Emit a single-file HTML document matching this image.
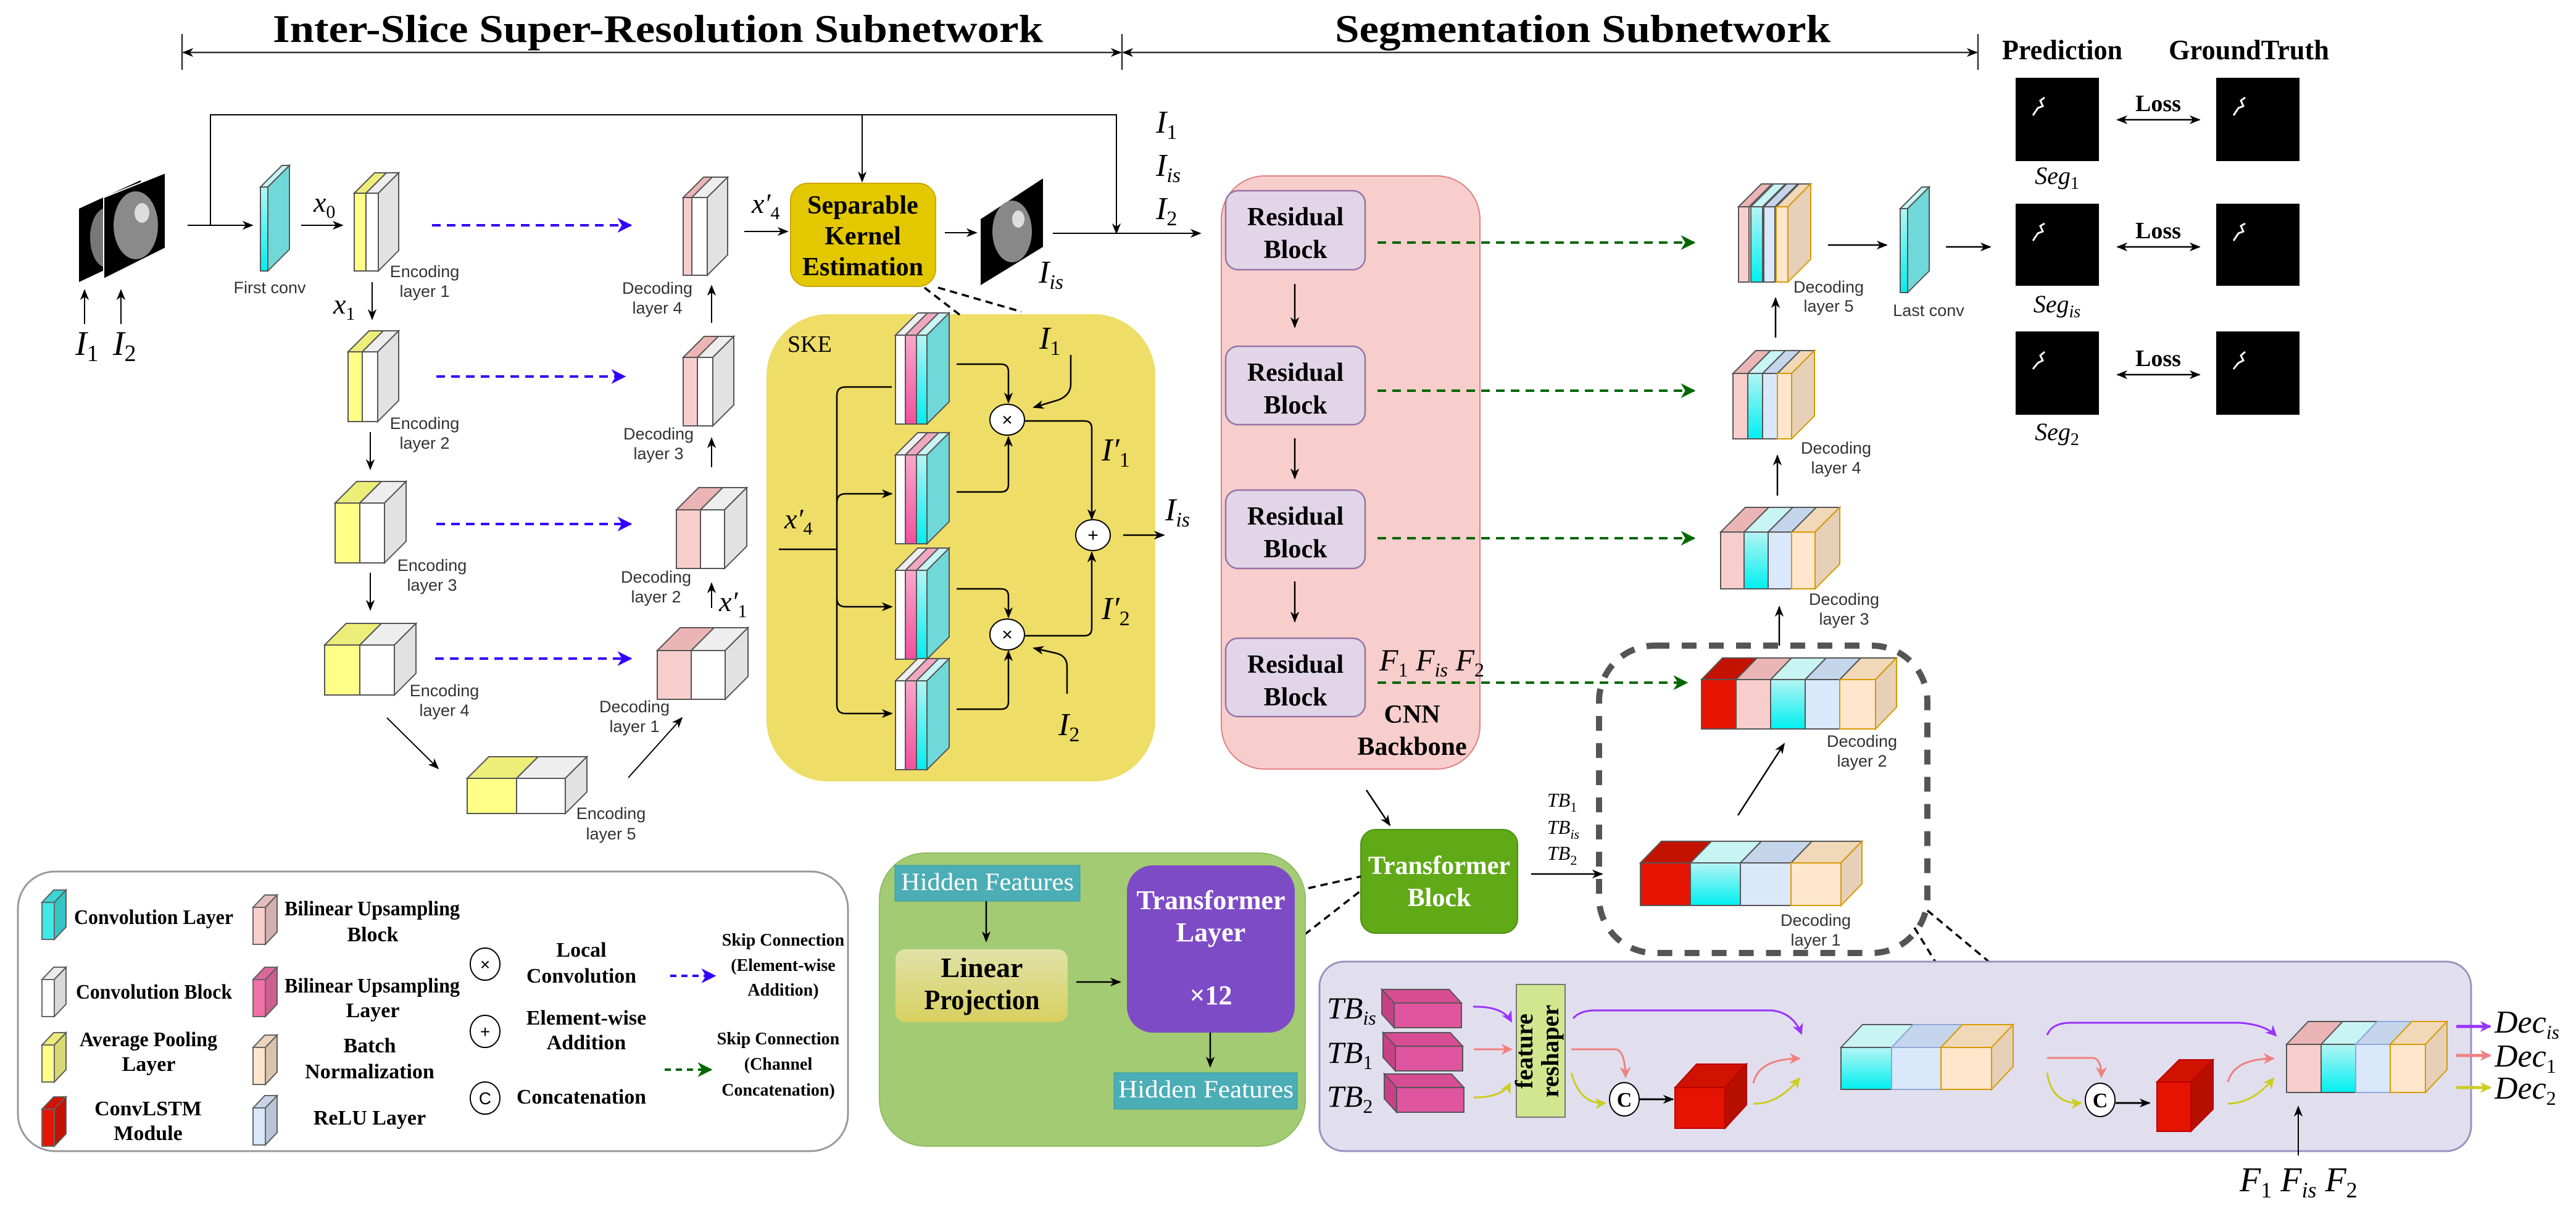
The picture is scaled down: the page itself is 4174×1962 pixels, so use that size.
<!DOCTYPE html>
<html><head><meta charset="utf-8"><style>
html,body{margin:0;padding:0;background:#fff}
svg{display:block}
.s{font-family:"Liberation Serif",serif}
.a{font-family:"Liberation Sans",sans-serif}
.b{font-weight:bold}
.i{font-style:italic}
.n{font-style:normal}
.g path,.g polygon,.g rect{stroke:#555;stroke-width:2}
</style></head><body>
<svg width="4174" height="1962" viewBox="0 0 4174 1962" xmlns="http://www.w3.org/2000/svg">
<defs>
<linearGradient id="cy" x1="0" y1="0" x2="0" y2="1"><stop offset="0" stop-color="#B4F4F4"/><stop offset="1" stop-color="#00F0F0"/></linearGradient>
<linearGradient id="mg" x1="0" y1="0" x2="0" y2="1"><stop offset="0" stop-color="#F8A8C8"/><stop offset="1" stop-color="#F050A0"/></linearGradient>
<linearGradient id="lp" x1="0" y1="0" x2="0" y2="1"><stop offset="0" stop-color="#E0E2A8"/><stop offset="1" stop-color="#D8D060"/></linearGradient>
<marker id="a" viewBox="0 0 10 10" refX="9" refY="5" markerWidth="18" markerHeight="18" markerUnits="userSpaceOnUse" orient="auto-start-reverse"><path d="M0,1 L10,5 L0,9 L3,5z" fill="#000"/></marker>
<marker id="ab" viewBox="0 0 10 10" refX="9" refY="5" markerWidth="24" markerHeight="24" markerUnits="userSpaceOnUse" orient="auto"><path d="M0,0 L10,5 L0,10 L3,5z" fill="#3300FF"/></marker>
<marker id="ag" viewBox="0 0 10 10" refX="9" refY="5" markerWidth="24" markerHeight="24" markerUnits="userSpaceOnUse" orient="auto"><path d="M0,0 L10,5 L0,10 L3,5z" fill="#006600"/></marker>
<marker id="ap" viewBox="0 0 10 10" refX="9" refY="5" markerWidth="18" markerHeight="18" markerUnits="userSpaceOnUse" orient="auto"><path d="M0,0 L10,5 L0,10 L3,5z" fill="#9933FF"/></marker>
<marker id="as" viewBox="0 0 10 10" refX="9" refY="5" markerWidth="18" markerHeight="18" markerUnits="userSpaceOnUse" orient="auto"><path d="M0,0 L10,5 L0,10 L3,5z" fill="#F08080"/></marker>
<marker id="ay" viewBox="0 0 10 10" refX="9" refY="5" markerWidth="18" markerHeight="18" markerUnits="userSpaceOnUse" orient="auto"><path d="M0,0 L10,5 L0,10 L3,5z" fill="#CCCC22"/></marker>
<g id="skst" class="g">
<polygon points="1451,36 1487,0 1503,0 1467,36" fill="#eee"/><rect x="1451" y="36" width="16" height="144" fill="#fff"/>
<polygon points="1467,36 1503,0 1521,0 1485,36" fill="#F0A8C0"/><rect x="1467" y="36" width="18" height="144" fill="url(#mg)"/>
<polygon points="1485,36 1521,0 1538,0 1502,36" fill="#C8F4F4"/><rect x="1485" y="36" width="17" height="144" fill="url(#cy)"/>
<polygon points="1502,36 1538,0 1538,144 1502,180" fill="#70D8D8"/>
</g>
<g id="mgb" class="g">
<polygon points="2239,0 2348,0 2368,22 2259,22" fill="#D84C94"/>
<polygon points="2239,0 2259,22 2259,62 2239,40" fill="#C84088"/>
<rect x="2259" y="22" width="109" height="40" fill="#E0559F"/>
</g>
<g id="ic">
<polygon points="0,20 19,0 39,0 20,20" stroke="#666" stroke-width="2"/>
<polygon points="0,20 19,0 39,0 20,20" fill="#000" opacity=".08"/>
<polygon points="20,20 39,0 39,60 20,80" stroke="#666" stroke-width="2"/>
<polygon points="20,20 39,0 39,60 20,80" fill="#000" opacity=".15"/>
<rect x="0" y="20" width="20" height="60" stroke="#666" stroke-width="2"/>
</g>
</defs>
<rect width="4174" height="1962" fill="#fff"/>

<text class="s b" x="442" y="68" font-size="64" textLength="1248" lengthAdjust="spacingAndGlyphs">Inter-Slice Super-Resolution Subnetwork</text>
<text class="s b" x="2163" y="68" font-size="64" textLength="803" lengthAdjust="spacingAndGlyphs">Segmentation Subnetwork</text>
<text class="s b" x="3244" y="96" font-size="46" textLength="195" lengthAdjust="spacingAndGlyphs">Prediction</text>
<text class="s b" x="3514" y="96" font-size="46" textLength="260" lengthAdjust="spacingAndGlyphs">GroundTruth</text>
<g stroke="#333" stroke-width="2.5" fill="none">
<line x1="295" y1="55" x2="295" y2="113"/><line x1="1818" y1="55" x2="1818" y2="113"/><line x1="3205" y1="55" x2="3205" y2="113"/>
<line x1="297" y1="85" x2="1816" y2="85" marker-start="url(#a)" marker-end="url(#a)"/>
<line x1="1820" y1="85" x2="3203" y2="85" marker-start="url(#a)" marker-end="url(#a)"/>
</g>

<g fill="#000">
<rect x="3266" y="126" width="135" height="135"/><rect x="3591" y="126" width="135" height="135"/>
<rect x="3266" y="330" width="135" height="133"/><rect x="3591" y="330" width="135" height="133"/>
<rect x="3266" y="537" width="135" height="135"/><rect x="3591" y="537" width="135" height="135"/>
</g>
<g stroke="#fff" stroke-width="3" fill="none">
<path d="M3294,187 L3302,175 L3310,172 L3306,163 L3313,158"/><path d="M3619,187 L3627,175 L3635,172 L3631,163 L3638,158"/>
<path d="M3294,390 L3302,378 L3310,375 L3306,366 L3313,362"/><path d="M3619,390 L3627,378 L3635,375 L3631,366 L3638,362"/>
<path d="M3294,598 L3302,588 L3310,584 L3306,576 L3313,570"/><path d="M3619,598 L3627,588 L3635,584 L3631,576 L3638,570"/>
</g>
<g stroke="#000" stroke-width="2.5">
<line x1="3431" y1="194" x2="3564" y2="194" marker-start="url(#a)" marker-end="url(#a)"/>
<line x1="3431" y1="400" x2="3564" y2="400" marker-start="url(#a)" marker-end="url(#a)"/>
<line x1="3431" y1="607" x2="3564" y2="607" marker-start="url(#a)" marker-end="url(#a)"/>
</g>
<g class="s b" font-size="38" text-anchor="middle"><text x="3497" y="180">Loss</text><text x="3497" y="386">Loss</text><text x="3497" y="593">Loss</text></g>
<g class="s i" font-size="40" text-anchor="middle">
<text x="3333" y="298">Seg<tspan class="n" font-size="28" dy="8">1</tspan></text>
<text x="3333" y="506">Seg<tspan font-size="28" dy="8">is</tspan></text>
<text x="3333" y="713">Seg<tspan class="n" font-size="28" dy="8">2</tspan></text>
</g>

<polygon points="128,338 228,292 228,410 128,457" fill="#000"/>
<ellipse cx="172" cy="385" rx="26" ry="48" fill="#777"/>
<polygon points="168,320 268,280 268,402 168,452" fill="#000" stroke="#fff" stroke-width="2"/>
<ellipse cx="220" cy="365" rx="36" ry="55" fill="#8a8a8a"/><ellipse cx="230" cy="345" rx="12" ry="16" fill="#ddd"/>
<g stroke="#000" stroke-width="2" fill="none">
<line x1="137" y1="525" x2="137" y2="470" marker-end="url(#a)"/><line x1="196" y1="525" x2="196" y2="470" marker-end="url(#a)"/>
<polyline points="341,365 341,186 1809,186 1809,378" marker-end="url(#a)"/>
<line x1="1397" y1="186" x2="1397" y2="294" marker-end="url(#a)"/>
<line x1="304" y1="365" x2="409" y2="365" marker-end="url(#a)"/>
<line x1="488" y1="365" x2="555" y2="365" marker-end="url(#a)"/>
<line x1="603" y1="457" x2="603" y2="517" marker-end="url(#a)"/>
<line x1="600" y1="700" x2="600" y2="760" marker-end="url(#a)"/>
<line x1="600" y1="928" x2="600" y2="988" marker-end="url(#a)"/>
<line x1="627" y1="1163" x2="710" y2="1245" marker-end="url(#a)"/>
<line x1="1018" y1="1260" x2="1105" y2="1163" marker-end="url(#a)"/>
<line x1="1153" y1="985" x2="1153" y2="945" marker-end="url(#a)"/>
<line x1="1153" y1="757" x2="1153" y2="710" marker-end="url(#a)"/>
<line x1="1153" y1="523" x2="1153" y2="463" marker-end="url(#a)"/>
<line x1="1206" y1="375" x2="1276" y2="375" marker-end="url(#a)"/>
<line x1="1531" y1="377" x2="1582" y2="377" marker-end="url(#a)"/>
<line x1="1706" y1="378" x2="1945" y2="378" marker-end="url(#a)"/>
</g>
<g class="s i" font-size="56"><text x="122" y="575">I<tspan class="n" font-size="38" dy="10">1</tspan></text><text x="183" y="575">I<tspan class="n" font-size="38" dy="10">2</tspan></text></g>

<g class="g">
<polygon points="422,303 457,268 469,268 434,303" fill="#C8F4F4"/><rect x="422" y="303" width="12" height="136" fill="url(#cy)"/><polygon points="434,303 469,268 469,404 434,439" fill="#70D8D8"/>
<polygon points="574,313 607,280 626,280 593,313" fill="#EDED7A"/><rect x="574" y="313" width="19" height="126" fill="#FFFF88"/>
<polygon points="593,313 626,280 646,280 613,313" fill="#eee"/><rect x="593" y="313" width="20" height="126" fill="#fff"/><polygon points="613,313 646,280 646,406 613,439" fill="#e2e2e2"/>
<polygon points="564,570 598,536 621,536 587,570" fill="#EDED7A"/><rect x="564" y="570" width="23" height="113" fill="#FFFF88"/>
<polygon points="587,570 621,536 646,536 612,570" fill="#eee"/><rect x="587" y="570" width="25" height="113" fill="#fff"/><polygon points="612,570 646,536 646,649 612,683" fill="#e2e2e2"/>
<polygon points="543,815 578,780 618,780 583,815" fill="#EDED7A"/><rect x="543" y="815" width="40" height="97" fill="#FFFF88"/>
<polygon points="583,815 618,780 658,780 623,815" fill="#eee"/><rect x="583" y="815" width="40" height="97" fill="#fff"/><polygon points="623,815 658,780 658,877 623,912" fill="#e2e2e2"/>
<polygon points="526,1045 561,1010 618,1010 583,1045" fill="#EDED7A"/><rect x="526" y="1045" width="57" height="81" fill="#FFFF88"/>
<polygon points="583,1045 618,1010 674,1010 639,1045" fill="#eee"/><rect x="583" y="1045" width="56" height="81" fill="#fff"/><polygon points="639,1045 674,1010 674,1091 639,1126" fill="#e2e2e2"/>
<polygon points="757,1261 792,1226 872,1226 837,1261" fill="#EDED7A"/><rect x="757" y="1261" width="80" height="57" fill="#FFFF88"/>
<polygon points="837,1261 872,1226 951,1226 916,1261" fill="#eee"/><rect x="837" y="1261" width="79" height="57" fill="#fff"/><polygon points="916,1261 951,1226 951,1283 916,1318" fill="#e2e2e2"/>
<polygon points="1065,1054 1102,1017 1157,1017 1120,1054" fill="#EBB5B5"/><rect x="1065" y="1054" width="55" height="79" fill="#F8CECC"/>
<polygon points="1120,1054 1157,1017 1212,1017 1175,1054" fill="#eee"/><rect x="1120" y="1054" width="55" height="79" fill="#fff"/><polygon points="1175,1054 1212,1017 1212,1096 1175,1133" fill="#e2e2e2"/>
<polygon points="1096,826 1132,790 1171,790 1135,826" fill="#EBB5B5"/><rect x="1096" y="826" width="39" height="95" fill="#F8CECC"/>
<polygon points="1135,826 1171,790 1210,790 1174,826" fill="#eee"/><rect x="1135" y="826" width="39" height="95" fill="#fff"/><polygon points="1174,826 1210,790 1210,885 1174,921" fill="#e2e2e2"/>
<polygon points="1107,579 1141,545 1164,545 1130,579" fill="#EBB5B5"/><rect x="1107" y="579" width="23" height="111" fill="#F8CECC"/>
<polygon points="1130,579 1164,545 1189,545 1155,579" fill="#eee"/><rect x="1130" y="579" width="25" height="111" fill="#fff"/><polygon points="1155,579 1189,545 1189,656 1155,690" fill="#e2e2e2"/>
<polygon points="1107,320 1140,287 1154,287 1121,320" fill="#EBB5B5"/><rect x="1107" y="320" width="14" height="126" fill="#F8CECC"/>
<polygon points="1121,320 1154,287 1179,287 1146,320" fill="#eee"/><rect x="1121" y="320" width="25" height="126" fill="#fff"/><polygon points="1146,320 1179,287 1179,413 1146,446" fill="#e2e2e2"/>
</g>
<g stroke="#3300FF" stroke-width="4" stroke-dasharray="14 10" fill="none">
<line x1="700" y1="365" x2="1022" y2="365" marker-end="url(#ab)"/>
<line x1="707" y1="610" x2="1012" y2="610" marker-end="url(#ab)"/>
<line x1="707" y1="849" x2="1022" y2="849" marker-end="url(#ab)"/>
<line x1="705" y1="1067" x2="1022" y2="1067" marker-end="url(#ab)"/>
</g>
<g class="a" font-size="27" fill="#333" text-anchor="middle">
<text x="437" y="475">First conv</text>
<text x="688" y="449">Encoding</text><text x="688" y="481">layer 1</text>
<text x="688" y="695">Encoding</text><text x="688" y="727">layer 2</text>
<text x="700" y="925">Encoding</text><text x="700" y="957">layer 3</text>
<text x="720" y="1128">Encoding</text><text x="720" y="1160">layer 4</text>
<text x="990" y="1327">Encoding</text><text x="990" y="1360">layer 5</text>
<text x="1065" y="476">Decoding</text><text x="1065" y="508">layer 4</text>
<text x="1067" y="712">Decoding</text><text x="1067" y="744">layer 3</text>
<text x="1063" y="944">Decoding</text><text x="1063" y="976">layer 2</text>
<text x="1028" y="1154">Decoding</text><text x="1028" y="1186">layer 1</text>
<text x="2963" y="474">Decoding</text><text x="2963" y="505">layer 5</text>
<text x="2975" y="735">Decoding</text><text x="2975" y="767">layer 4</text>
<text x="2988" y="980">Decoding</text><text x="2988" y="1012">layer 3</text>
<text x="3017" y="1210">Decoding</text><text x="3017" y="1242">layer 2</text>
<text x="2942" y="1500">Decoding</text><text x="2942" y="1532">layer 1</text>
<text x="3125" y="512">Last conv</text>
</g>
<g class="s i" font-size="46">
<text x="508" y="343">x<tspan class="n" font-size="30" dy="10">0</tspan></text>
<text x="540" y="508">x<tspan class="n" font-size="30" dy="10">1</tspan></text>
<text x="1165" y="990">x′<tspan class="n" font-size="30" dy="10">1</tspan></text>
<text x="1218" y="345">x′<tspan class="n" font-size="30" dy="10">4</tspan></text>
</g>

<rect x="1281" y="297" width="235" height="167" rx="28" fill="#E3C800" stroke="#C9A800" stroke-width="2"/>
<g class="s b" font-size="42" text-anchor="middle"><text x="1398" y="346">Separable</text><text x="1398" y="396">Kernel</text><text x="1398" y="446">Estimation</text></g>
<polygon points="1589,355 1690,289 1690,400 1589,462" fill="#000"/>
<ellipse cx="1640" cy="375" rx="32" ry="50" fill="#888"/><ellipse cx="1650" cy="355" rx="10" ry="14" fill="#ddd"/>
<text class="s i" x="1683" y="458" font-size="52">I<tspan font-size="34" dy="10">is</tspan></text>
<g class="s i" font-size="52">
<text x="1873" y="215">I<tspan class="n" font-size="34" dy="10">1</tspan></text>
<text x="1873" y="285">I<tspan font-size="34" dy="10">is</tspan></text>
<text x="1873" y="355">I<tspan class="n" font-size="34" dy="10">2</tspan></text>
</g>

<rect x="1242" y="509" width="630" height="757" rx="100" fill="#EEDD66"/>
<g stroke="#000" stroke-width="3.5" stroke-dasharray="12 8"><line x1="1498" y1="466" x2="1555" y2="510"/><line x1="1520" y1="466" x2="1655" y2="505"/></g>
<text class="s" x="1276" y="570" font-size="38">SKE</text>
<use href="#skst" transform="translate(0,507)"/><use href="#skst" transform="translate(0,701)"/>
<use href="#skst" transform="translate(0,888)"/><use href="#skst" transform="translate(0,1067)"/>
<g stroke="#000" stroke-width="2.5" fill="none">
<line x1="1262" y1="890" x2="1356" y2="890"/>
<path d="M1445,627 L1370,627 Q1356,627 1356,641 L1356,1142 Q1356,1156 1370,1156 L1445,1156" marker-end="url(#a)"/>
<path d="M1356,814 Q1356,800 1370,800 L1445,800" marker-end="url(#a)"/>
<path d="M1356,969 Q1356,983 1370,983 L1445,983" marker-end="url(#a)"/>
<path d="M1550,590 L1622,590 Q1634,590 1634,602 L1634,652" marker-end="url(#a)"/>
<path d="M1550,797 L1622,797 Q1634,797 1634,785 L1634,708" marker-end="url(#a)"/>
<path d="M1550,954 L1622,954 Q1634,954 1634,966 L1634,1000" marker-end="url(#a)"/>
<path d="M1550,1149 L1622,1149 Q1634,1149 1634,1137 L1634,1055" marker-end="url(#a)"/>
<path d="M1735,575 L1735,622 Q1735,640 1715,648 L1675,660" marker-end="url(#a)"/>
<path d="M1729,1124 L1729,1080 Q1729,1062 1710,1058 L1675,1050" marker-end="url(#a)"/>
<path d="M1660,682 L1757,682 Q1769,682 1769,694 L1769,841" marker-end="url(#a)"/>
<path d="M1660,1030 L1757,1030 Q1769,1030 1769,1018 L1769,895" marker-end="url(#a)"/>
<line x1="1820" y1="867" x2="1886" y2="867" marker-end="url(#a)"/>
</g>
<g fill="#fff" stroke="#000" stroke-width="2"><ellipse cx="1632" cy="680" rx="28" ry="25"/><ellipse cx="1632" cy="1028" rx="28" ry="25"/><ellipse cx="1771" cy="867" rx="28" ry="25"/></g>
<g class="a" font-size="30" text-anchor="middle"><text x="1632" y="690">×</text><text x="1632" y="1038">×</text><text x="1771" y="877">+</text></g>
<g class="s i" font-size="52">
<text x="1271" y="856" font-size="46">x′<tspan class="n" font-size="30" dy="10">4</tspan></text>
<text x="1684" y="565">I<tspan class="n" font-size="34" dy="10">1</tspan></text>
<text x="1785" y="746">I′<tspan class="n" font-size="34" dy="10">1</tspan></text>
<text x="1785" y="1003">I′<tspan class="n" font-size="34" dy="10">2</tspan></text>
<text x="1715" y="1191">I<tspan class="n" font-size="34" dy="10">2</tspan></text>
<text x="1888" y="843">I<tspan font-size="34" dy="10">is</tspan></text>
</g>

<rect x="1979" y="285" width="419" height="961" rx="70" fill="#F8CECC" stroke="#E08080" stroke-width="2"/>
<g fill="#E1D5E7" stroke="#9673A6" stroke-width="2.5">
<rect x="1986" y="309" width="226" height="128" rx="20"/><rect x="1986" y="561" width="226" height="127" rx="20"/>
<rect x="1986" y="794" width="226" height="127" rx="20"/><rect x="1986" y="1034" width="226" height="127" rx="20"/>
</g>
<g class="s b" font-size="42" text-anchor="middle">
<text x="2099" y="365">Residual</text><text x="2099" y="418">Block</text>
<text x="2099" y="617">Residual</text><text x="2099" y="670">Block</text>
<text x="2099" y="850">Residual</text><text x="2099" y="903">Block</text>
<text x="2099" y="1090">Residual</text><text x="2099" y="1143">Block</text>
<text x="2288" y="1171">CNN</text><text x="2288" y="1223">Backbone</text>
</g>
<g stroke="#000" stroke-width="2.5">
<line x1="2098" y1="460" x2="2098" y2="530" marker-end="url(#a)"/>
<line x1="2098" y1="710" x2="2098" y2="775" marker-end="url(#a)"/>
<line x1="2098" y1="942" x2="2098" y2="1007" marker-end="url(#a)"/>
</g>
<text class="s i" x="2235" y="1086" font-size="50">F<tspan class="n" font-size="32" dy="10">1</tspan><tspan dy="-10"> F</tspan><tspan font-size="32" dy="10">is</tspan><tspan dy="-10"> F</tspan><tspan class="n" font-size="32" dy="10">2</tspan></text>
<g stroke="#006600" stroke-width="4" stroke-dasharray="14 10" fill="none">
<line x1="2232" y1="393" x2="2745" y2="393" marker-end="url(#ag)"/>
<line x1="2232" y1="633" x2="2745" y2="633" marker-end="url(#ag)"/>
<line x1="2232" y1="872" x2="2745" y2="872" marker-end="url(#ag)"/>
<line x1="2232" y1="1106" x2="2733" y2="1106" marker-end="url(#ag)"/>
</g>

<g class="g">
<polygon points="3079,338 3114,303 3126,303 3091,338" fill="#C8F4F4"/><rect x="3079" y="338" width="12" height="136" fill="url(#cy)"/><polygon points="3091,338 3126,303 3126,439 3091,474" fill="#70D8D8"/>
<polygon points="2817,335 2854,298 2871,298 2834,335" fill="#EBB5B5"/><rect x="2817" y="335" width="17" height="122" fill="#F8CECC"/>
<polygon points="2837,335 2874,298 2893,298 2856,335" fill="#C8F4F4"/><rect x="2837" y="335" width="19" height="122" fill="url(#cy)"/>
<polygon points="2858,335 2895,298 2913,298 2876,335" fill="#C5D5EC"/><rect x="2858" y="335" width="18" height="122" fill="#DAE8FC" stroke="#8EA8D8"/>
<polygon points="2878,335 2915,298 2934,298 2897,335" fill="#F0D8B8"/><rect x="2878" y="335" width="19" height="122" fill="#FFE6CC" style="stroke:#D79B00"/>
<polygon points="2897,335 2934,298 2934,420 2897,457" fill="#E6D0B8" style="stroke:#D79B00"/>
<polygon points="2808,605 2845,568 2869,568 2832,605" fill="#EBB5B5"/><rect x="2808" y="605" width="24" height="106" fill="#F8CECC"/>
<polygon points="2832,605 2869,568 2893,568 2856,605" fill="#C8F4F4"/><rect x="2832" y="605" width="24" height="106" fill="url(#cy)"/>
<polygon points="2856,605 2893,568 2917,568 2880,605" fill="#C5D5EC"/><rect x="2856" y="605" width="24" height="106" fill="#DAE8FC"/>
<polygon points="2880,605 2917,568 2940,568 2903,605" fill="#F0D8B8"/><rect x="2880" y="605" width="23" height="106" fill="#FFE6CC" style="stroke:#D79B00"/>
<polygon points="2903,605 2940,568 2940,674 2903,711" fill="#E6D0B8" style="stroke:#D79B00"/>
<polygon points="2788,862 2828,822 2866,822 2826,862" fill="#EBB5B5"/><rect x="2788" y="862" width="38" height="92" fill="#F8CECC"/>
<polygon points="2826,862 2866,822 2905,822 2865,862" fill="#C8F4F4"/><rect x="2826" y="862" width="39" height="92" fill="url(#cy)"/>
<polygon points="2865,862 2905,822 2943,822 2903,862" fill="#C5D5EC"/><rect x="2865" y="862" width="38" height="92" fill="#DAE8FC"/>
<polygon points="2903,862 2943,822 2981,822 2941,862" fill="#F0D8B8"/><rect x="2903" y="862" width="38" height="92" fill="#FFE6CC" style="stroke:#D79B00"/>
<polygon points="2941,862 2981,822 2981,914 2941,954" fill="#E6D0B8" style="stroke:#D79B00"/>
<polygon points="2757,1101 2791,1066 2847,1066 2813,1101" fill="#C41200"/><rect x="2757" y="1101" width="56" height="80" fill="#E51400"/>
<polygon points="2813,1101 2847,1066 2903,1066 2869,1101" fill="#EBB5B5"/><rect x="2813" y="1101" width="56" height="80" fill="#F8CECC"/>
<polygon points="2869,1101 2903,1066 2959,1066 2925,1101" fill="#C8F4F4"/><rect x="2869" y="1101" width="56" height="80" fill="url(#cy)"/>
<polygon points="2925,1101 2959,1066 3015,1066 2981,1101" fill="#C5D5EC"/><rect x="2925" y="1101" width="56" height="80" fill="#DAE8FC"/>
<polygon points="2981,1101 3015,1066 3073,1066 3039,1101" fill="#F0D8B8"/><rect x="2981" y="1101" width="58" height="80" fill="#FFE6CC" style="stroke:#D79B00"/>
<polygon points="3039,1101 3073,1066 3073,1146 3039,1181" fill="#E6D0B8" style="stroke:#D79B00"/>
<polygon points="2658,1398 2692,1363 2773,1363 2739,1398" fill="#C41200"/><rect x="2658" y="1398" width="81" height="69" fill="#E51400"/>
<polygon points="2739,1398 2773,1363 2854,1363 2820,1398" fill="#C8F4F4"/><rect x="2739" y="1398" width="81" height="69" fill="url(#cy)"/>
<polygon points="2820,1398 2854,1363 2936,1363 2902,1398" fill="#C5D5EC"/><rect x="2820" y="1398" width="82" height="69" fill="#DAE8FC"/>
<polygon points="2902,1398 2936,1363 3017,1363 2983,1398" fill="#F0D8B8"/><rect x="2902" y="1398" width="81" height="69" fill="#FFE6CC" style="stroke:#D79B00"/>
<polygon points="2983,1398 3017,1363 3017,1432 2983,1467" fill="#E6D0B8" style="stroke:#D79B00"/>
</g>
<g stroke="#000" stroke-width="2.5">
<line x1="2962" y1="397" x2="3057" y2="397" marker-end="url(#a)"/>
<line x1="3153" y1="400" x2="3225" y2="400" marker-end="url(#a)"/>
<line x1="2877" y1="547" x2="2877" y2="483" marker-end="url(#a)"/>
<line x1="2880" y1="803" x2="2880" y2="738" marker-end="url(#a)"/>
<line x1="2883" y1="1046" x2="2883" y2="983" marker-end="url(#a)"/>
<line x1="2816" y1="1321" x2="2891" y2="1205" marker-end="url(#a)"/>
<line x1="2214" y1="1280" x2="2252" y2="1337" marker-end="url(#a)"/>
<line x1="2481" y1="1416" x2="2596" y2="1416" marker-end="url(#a)"/>
</g>
<rect x="2591" y="1046" width="532" height="498" rx="90" fill="none" stroke="#555" stroke-width="10" stroke-dasharray="24 20"/>
<g class="s i" font-size="32">
<text x="2507" y="1307">TB<tspan class="n" font-size="22" dy="8">1</tspan></text>
<text x="2507" y="1351">TB<tspan font-size="22" dy="8">is</tspan></text>
<text x="2507" y="1393">TB<tspan class="n" font-size="22" dy="8">2</tspan></text>
</g>

<rect x="2205" y="1344" width="254" height="168" rx="24" fill="#60A917" stroke="#4E9010" stroke-width="2"/>
<g class="s b" font-size="42" fill="#fff" text-anchor="middle"><text x="2332" y="1416">Transformer</text><text x="2332" y="1468">Block</text></g>
<g stroke="#000" stroke-width="3.5" stroke-dasharray="12 8">
<line x1="2120" y1="1439" x2="2205" y2="1420"/><line x1="2114" y1="1514" x2="2205" y2="1443"/>
<line x1="3123" y1="1475" x2="3225" y2="1560"/><line x1="3102" y1="1503" x2="3137" y2="1560"/>
</g>

<rect x="1425" y="1382" width="690" height="475" rx="75" fill="#A3CB73" stroke="#93BB63" stroke-width="2"/>
<rect x="1450" y="1402" width="300" height="58" fill="#4BADB5" stroke="#3A9AA2"/>
<text class="s" x="1460" y="1442" font-size="40" fill="#fff" textLength="280" lengthAdjust="spacingAndGlyphs">Hidden Features</text>
<rect x="1451" y="1538" width="279" height="118" rx="16" fill="url(#lp)"/>
<g class="s b" font-size="46" text-anchor="middle"><text x="1591" y="1583">Linear</text><text x="1591" y="1635" textLength="187" lengthAdjust="spacingAndGlyphs">Projection</text></g>
<rect x="1826" y="1402" width="272" height="271" rx="42" fill="#7E4BC6"/>
<g class="s b" font-size="44" fill="#fff" text-anchor="middle"><text x="1962" y="1473">Transformer</text><text x="1962" y="1525">Layer</text><text x="1962" y="1627">×12</text></g>
<rect x="1805" y="1738" width="297" height="59" fill="#4BADB5" stroke="#3A9AA2"/>
<text class="s" x="1812" y="1778" font-size="40" fill="#fff" textLength="284" lengthAdjust="spacingAndGlyphs">Hidden Features</text>
<g stroke="#000" stroke-width="2.5">
<line x1="1598" y1="1460" x2="1598" y2="1525" marker-end="url(#a)"/>
<line x1="1744" y1="1591" x2="1815" y2="1591" marker-end="url(#a)"/>
<line x1="1961" y1="1673" x2="1961" y2="1728" marker-end="url(#a)"/>
</g>

<rect x="2138" y="1558" width="1866" height="307" rx="40" fill="#E1DFEE" stroke="#9E90C0" stroke-width="3"/>
<g class="s i" font-size="50">
<text x="2150" y="1650">TB<tspan font-size="32" dy="10">is</tspan></text>
<text x="2150" y="1722">TB<tspan class="n" font-size="32" dy="10">1</tspan></text>
<text x="2150" y="1793">TB<tspan class="n" font-size="32" dy="10">2</tspan></text>
</g>
<use href="#mgb" transform="translate(0,1603)"/><use href="#mgb" transform="translate(2,1673)"/><use href="#mgb" transform="translate(4,1740)"/>
<rect x="2457" y="1595" width="79" height="215" fill="#D2E68F" stroke="#777" stroke-width="2"/>
<g class="s b" font-size="40" text-anchor="middle">
<text transform="translate(2483,1703) rotate(-90)">feature</text>
<text transform="translate(2525,1703) rotate(-90)">reshaper</text>
</g>
<g fill="none" stroke-width="3">
<path d="M2387,1631 Q2435,1630 2449,1655" stroke="#9933FF" marker-end="url(#ap)"/>
<path d="M2388,1700 L2449,1700" stroke="#F08080" marker-end="url(#as)"/>
<path d="M2388,1778 Q2435,1778 2447,1755" stroke="#CCCC22" marker-end="url(#ay)"/>
<path d="M2549,1650 Q2560,1637 2585,1637 L2870,1637 Q2905,1640 2919,1675" stroke="#9933FF" marker-end="url(#ap)"/>
<path d="M2546,1700 L2618,1700 Q2633,1702 2634,1745" stroke="#F08080" marker-end="url(#as)"/>
<path d="M2546,1738 Q2560,1790 2601,1787" stroke="#CCCC22" marker-end="url(#ay)"/>
<path d="M2841,1755 Q2850,1715 2916,1715" stroke="#F08080" marker-end="url(#as)"/>
<path d="M2841,1788 Q2880,1790 2916,1747" stroke="#CCCC22" marker-end="url(#ay)"/>
<path d="M3317,1677 Q3325,1657 3356,1657 L3629,1657 Q3670,1660 3688,1678" stroke="#9933FF" marker-end="url(#ap)"/>
<path d="M3317,1714 L3392,1714 Q3405,1716 3405,1745" stroke="#F08080" marker-end="url(#as)"/>
<path d="M3317,1738 Q3325,1790 3372,1787" stroke="#CCCC22" marker-end="url(#ay)"/>
<path d="M3610,1753 Q3620,1715 3684,1715" stroke="#F08080" marker-end="url(#as)"/>
<path d="M3610,1788 Q3650,1788 3684,1747" stroke="#CCCC22" marker-end="url(#ay)"/>
<line x1="3980" y1="1663" x2="4035" y2="1663" stroke="#9933FF" stroke-width="5" marker-end="url(#ap)"/>
<line x1="3980" y1="1710" x2="4035" y2="1710" stroke="#F08080" stroke-width="5" marker-end="url(#as)"/>
<line x1="3980" y1="1762" x2="4035" y2="1762" stroke="#CCCC22" stroke-width="5" marker-end="url(#ay)"/>
</g>
<g fill="#fff" stroke="#000" stroke-width="2"><ellipse cx="2632" cy="1781" rx="24" ry="27"/><ellipse cx="3403" cy="1782" rx="24" ry="27"/></g>
<g class="s b" font-size="34" text-anchor="middle"><text x="2632" y="1793">C</text><text x="3403" y="1794">C</text></g>
<g stroke="#000" stroke-width="3">
<line x1="2656" y1="1781" x2="2711" y2="1781" marker-end="url(#a)"/>
<line x1="3428" y1="1787" x2="3483" y2="1787" marker-end="url(#a)"/>
<line x1="3724" y1="1872" x2="3724" y2="1793" stroke-width="2" marker-end="url(#a)"/>
</g>
<g class="g">
<polygon points="2714,1762 2749,1724 2830,1724 2795,1762" fill="#D01200" style="stroke:#B00"/>
<polygon points="2795,1762 2830,1724 2830,1790 2795,1828" fill="#B81000" style="stroke:#B00"/>
<rect x="2714" y="1762" width="81" height="66" fill="#E51400" style="stroke:#B00"/>
<polygon points="3495,1753 3531,1717 3586,1717 3550,1753" fill="#D01200" style="stroke:#B00"/>
<polygon points="3550,1753 3586,1717 3586,1797 3550,1833" fill="#B81000" style="stroke:#B00"/>
<rect x="3495" y="1753" width="55" height="80" fill="#E51400" style="stroke:#B00"/>
<polygon points="2983,1697 3018,1660 3100,1660 3065,1697" fill="#C8F4F4"/><rect x="2983" y="1697" width="82" height="68" fill="url(#cy)"/>
<polygon points="3065,1697 3100,1660 3180,1660 3145,1697" fill="#C5D5EC" style="stroke:#8EA8D8"/><rect x="3065" y="1697" width="80" height="68" fill="#DAE8FC" style="stroke:#8EA8D8"/>
<polygon points="3145,1697 3180,1660 3262,1660 3227,1697" fill="#F0D8B8" style="stroke:#D79B00"/><rect x="3145" y="1697" width="82" height="68" fill="#FFE6CC" style="stroke:#D79B00"/>
<polygon points="3227,1697 3262,1660 3262,1728 3227,1765" fill="#E6D0B8" style="stroke:#D79B00"/>
<polygon points="3705,1692 3740,1655 3796,1655 3761,1692" fill="#EBB5B5"/><rect x="3705" y="1692" width="56" height="78" fill="#F8CECC"/>
<polygon points="3761,1692 3796,1655 3852,1655 3817,1692" fill="#C8F4F4"/><rect x="3761" y="1692" width="56" height="78" fill="url(#cy)"/>
<polygon points="3817,1692 3852,1655 3908,1655 3873,1692" fill="#C5D5EC" style="stroke:#8EA8D8"/><rect x="3817" y="1692" width="56" height="78" fill="#DAE8FC" style="stroke:#8EA8D8"/>
<polygon points="3873,1692 3908,1655 3965,1655 3930,1692" fill="#F0D8B8" style="stroke:#D79B00"/><rect x="3873" y="1692" width="57" height="78" fill="#FFE6CC" style="stroke:#D79B00"/>
<polygon points="3930,1692 3965,1655 3965,1733 3930,1770" fill="#E6D0B8" style="stroke:#D79B00"/>
</g>
<g class="s i" font-size="52">
<text x="4042" y="1673">Dec<tspan font-size="32" dy="10">is</tspan></text>
<text x="4042" y="1728">Dec<tspan class="n" font-size="32" dy="10">1</tspan></text>
<text x="4042" y="1780">Dec<tspan class="n" font-size="32" dy="10">2</tspan></text>
</g>
<text class="s i" x="3629" y="1930" font-size="56">F<tspan class="n" font-size="36" dy="10">1</tspan><tspan dy="-10"> F</tspan><tspan font-size="36" dy="10">is</tspan><tspan dy="-10"> F</tspan><tspan class="n" font-size="36" dy="10">2</tspan></text>

<rect x="29" y="1412" width="1345" height="453" rx="60" fill="#fff" stroke="#999" stroke-width="3"/>
<use href="#ic" x="68" y="1442" fill="#40E8E8"/>
<use href="#ic" x="68" y="1567" fill="#fff"/>
<use href="#ic" x="68" y="1673" fill="#FFFF88"/>
<use href="#ic" x="68" y="1777" fill="#E51400"/>
<use href="#ic" x="410" y="1450" fill="#F8CECC"/>
<use href="#ic" x="410" y="1567" fill="#F070A8"/>
<use href="#ic" x="410" y="1677" fill="#FFE6CC"/>
<use href="#ic" x="410" y="1775" fill="#DAE8FC"/>
<g class="s b" font-size="34">
<text x="120" y="1497" textLength="258" lengthAdjust="spacingAndGlyphs">Convolution Layer</text>
<text x="123" y="1618" textLength="253" lengthAdjust="spacingAndGlyphs">Convolution Block</text>
<text x="129" y="1695" textLength="223" lengthAdjust="spacingAndGlyphs">Average Pooling</text>
<text x="461" y="1483" textLength="284" lengthAdjust="spacingAndGlyphs">Bilinear Upsampling</text>
<text x="461" y="1608" textLength="284" lengthAdjust="spacingAndGlyphs">Bilinear Upsampling</text>
<text x="853" y="1592" textLength="178" lengthAdjust="spacingAndGlyphs">Convolution</text>
<text x="837" y="1788" textLength="210" lengthAdjust="spacingAndGlyphs">Concatenation</text>
</g>
<g class="s b" font-size="34" text-anchor="middle">
<text x="241" y="1735">Layer</text>
<text x="240" y="1807">ConvLSTM</text><text x="240" y="1847">Module</text>
<text x="604" y="1525">Block</text><text x="604" y="1648">Layer</text>
<text x="599" y="1705">Batch</text><text x="599" y="1747">Normalization</text>
<text x="599" y="1822">ReLU Layer</text>
<text x="942" y="1550">Local</text>
<text x="950" y="1660">Element-wise</text><text x="950" y="1700">Addition</text>
</g>
<g class="s b" font-size="28" text-anchor="middle">
<text x="1269" y="1532">Skip Connection</text><text x="1269" y="1573">(Element-wise</text><text x="1269" y="1613">Addition)</text>
<text x="1261" y="1692">Skip Connection</text><text x="1261" y="1733">(Channel</text><text x="1261" y="1775">Concatenation)</text>
</g>
<g fill="#fff" stroke="#000" stroke-width="2"><ellipse cx="786" cy="1562" rx="24" ry="26"/><ellipse cx="786" cy="1671" rx="24" ry="26"/><ellipse cx="786" cy="1779" rx="24" ry="26"/></g>
<g class="a" font-size="28" text-anchor="middle"><text x="786" y="1572">×</text><text x="786" y="1681">+</text><text x="786" y="1789">C</text></g>
<line x1="1086" y1="1581" x2="1158" y2="1581" stroke="#3300FF" stroke-width="4" stroke-dasharray="10 8" marker-end="url(#ab)"/>
<line x1="1077" y1="1733" x2="1152" y2="1733" stroke="#006600" stroke-width="4" stroke-dasharray="10 8" marker-end="url(#ag)"/>
</svg>
</body></html>
